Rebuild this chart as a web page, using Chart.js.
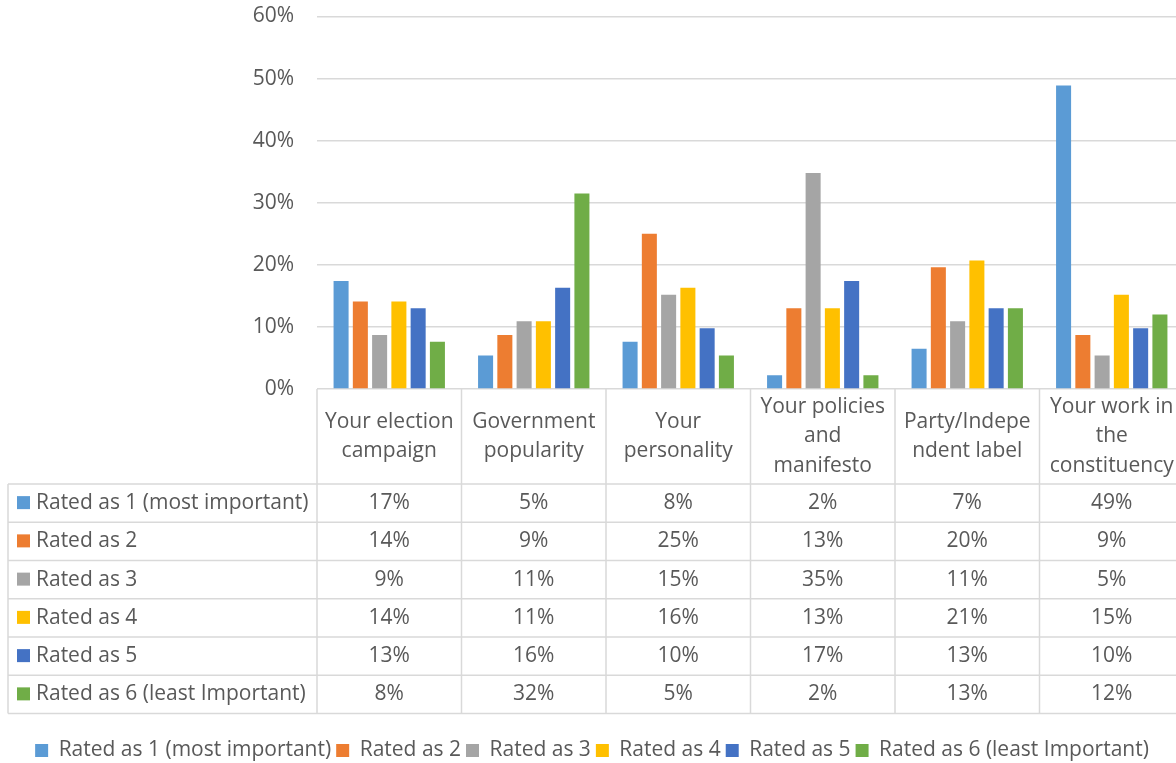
<!DOCTYPE html>
<html>
<head>
<meta charset="utf-8">
<title>Factors rated by importance</title>
<script src="https://cdn.jsdelivr.net/npm/chart.js@4.4.1/dist/chart.umd.min.js"></script>
<style>
  html, body { margin: 0; padding: 0; background: #fff; overflow: hidden; }
  #wrap { position: absolute; left: 0; top: 0; }
</style>
</head>
<body>
<div id="wrap"><canvas id="myChart" width="1185" height="771"></canvas></div>
<script>
// categories (already split into the lines shown in the table header)
var categories = [
  ['Your election', 'campaign'],
  ['Government', 'popularity'],
  ['Your', 'personality'],
  ['Your policies', 'and', 'manifesto'],
  ['Party/Indepe', 'ndent label'],
  ['Your work in', 'the', 'constituency']
];
var seriesNames = [
  'Rated as 1 (most important)', 'Rated as 2', 'Rated as 3',
  'Rated as 4', 'Rated as 5', 'Rated as 6 (least Important)'
];
var seriesColors = ['#5B9BD5', '#ED7D31', '#A5A5A5', '#FFC000', '#4472C4', '#70AD47'];

// share of respondents, in percent
var rated1 = [17.4, 5.4, 7.6, 2.2, 6.5, 48.9];
var rated2 = [14.1, 8.7, 25.0, 13.0, 19.6, 8.7];
var rated3 = [8.7, 10.9, 15.2, 34.8, 10.9, 5.4];
var rated4 = [14.1, 10.9, 16.3, 13.0, 20.7, 15.2];
var rated5 = [13.0, 16.3, 9.8, 17.4, 13.0, 9.8];
var rated6 = [7.6, 31.5, 5.4, 2.2, 13.0, 12.0];
var seriesValues = [rated1, rated2, rated3, rated4, rated5, rated6];

var yMax = 60, yStep = 10;

var FONT = "'Open Sans', 'Noto Sans', sans-serif";
var FONT_SIZE = 21;
var TEXT = '#595959';
var LINE = '#d9d9d9';

var PLOT_BOTTOM = 389;   // where the bars stand
var HEAD_H = 95;         // category header cells
var ROW_H = 38.25;       // data rows
var TABLE_LEFT = 8;
var HEAD_LINE = 29.5;

// draws the data table under the bars, lined up with the x scale
var dataTable = {
  id: 'dataTable',
  afterDraw: function(chart) {
    var ctx = chart.ctx, x = chart.scales.x, area = chart.chartArea;
    var n = categories.length;
    var colW = (x.right - x.left) / n;
    var top = area.bottom;
    var headBottom = top + HEAD_H;
    var bottom = headBottom + ROW_H * seriesNames.length;

    ctx.save();
    ctx.strokeStyle = LINE;
    ctx.lineWidth = 1.5;
    ctx.beginPath();
    for (var i = 0; i <= n; i++) {
      var px = x.left + i * colW;
      ctx.moveTo(px, top);
      ctx.lineTo(px, bottom);
    }
    ctx.moveTo(TABLE_LEFT, headBottom);
    ctx.lineTo(TABLE_LEFT, bottom);
    for (var r = 0; r <= seriesNames.length; r++) {
      var py = headBottom + r * ROW_H;
      ctx.moveTo(TABLE_LEFT, py);
      ctx.lineTo(x.right, py);
    }
    ctx.stroke();

    ctx.fillStyle = TEXT;
    ctx.font = FONT_SIZE + 'px ' + FONT;
    ctx.textBaseline = 'middle';
    ctx.textAlign = 'center';

    // header cells
    categories.forEach(function(lines, c) {
      var cx = x.getPixelForValue(c);
      var cy = top + HEAD_H / 2;
      lines.forEach(function(t, k) {
        ctx.fillText(t, cx, cy + (k - (lines.length - 1) / 2) * HEAD_LINE);
      });
    });

    // rows: colour key, series name, rounded values
    seriesNames.forEach(function(name, r) {
      var cy = headBottom + (r + 0.5) * ROW_H;
      ctx.fillStyle = seriesColors[r];
      ctx.fillRect(17, cy - 7, 13, 13);
      ctx.fillStyle = TEXT;
      ctx.textAlign = 'left';
      ctx.fillText(name, 36, cy);
      ctx.textAlign = 'center';
      seriesValues[r].forEach(function(v, c) {
        ctx.fillText(Math.round(v) + '%', x.getPixelForValue(c), cy);
      });
    });
    ctx.restore();
  }
};

var ctx = document.getElementById('myChart').getContext('2d');
var myChart = new Chart(ctx, {
  type: 'bar',
  data: {
    labels: categories,
    datasets: seriesNames.map(function(name, i) {
      return {
        label: name,
        data: seriesValues[i],
        backgroundColor: seriesColors[i],
        borderWidth: 0,
        categoryPercentage: 0.8,
        barPercentage: 0.78
      };
    })
  },
  options: {
    responsive: false,
    animation: false,
    devicePixelRatio: 1,
    layout: { padding: { top: 16.5, right: 1, left: 0, bottom: 0 } },
    plugins: {
      tooltip: { enabled: false },
      legend: {
        position: 'bottom',
        labels: {
          boxWidth: 13,
          boxHeight: 13,
          padding: 5,
          color: TEXT,
          font: { family: FONT, size: FONT_SIZE }
        }
      }
    },
    scales: {
      x: {
        grid: { display: false },
        border: { display: false },
        ticks: { display: false },
        afterFit: function(scale) {
          var lg = scale.chart.legend;
          scale.height = scale.chart.height - PLOT_BOTTOM - (lg ? lg.height : 0);
        }
      },
      y: {
        min: 0,
        max: yMax,
        ticks: {
          stepSize: yStep,
          padding: 0,
          color: TEXT,
          font: { family: FONT, size: FONT_SIZE },
          callback: function(v) { return v + '%'; }
        },
        // invisible tick marks keep the labels clear of the plot
        grid: { color: LINE, lineWidth: 1.5, drawTicks: true, tickLength: 23, tickColor: 'rgba(0,0,0,0)' },
        border: { display: false },
        afterFit: function(scale) { scale.width = 317; }
      }
    }
  },
  plugins: [dataTable]
});
</script>
</body>
</html>
